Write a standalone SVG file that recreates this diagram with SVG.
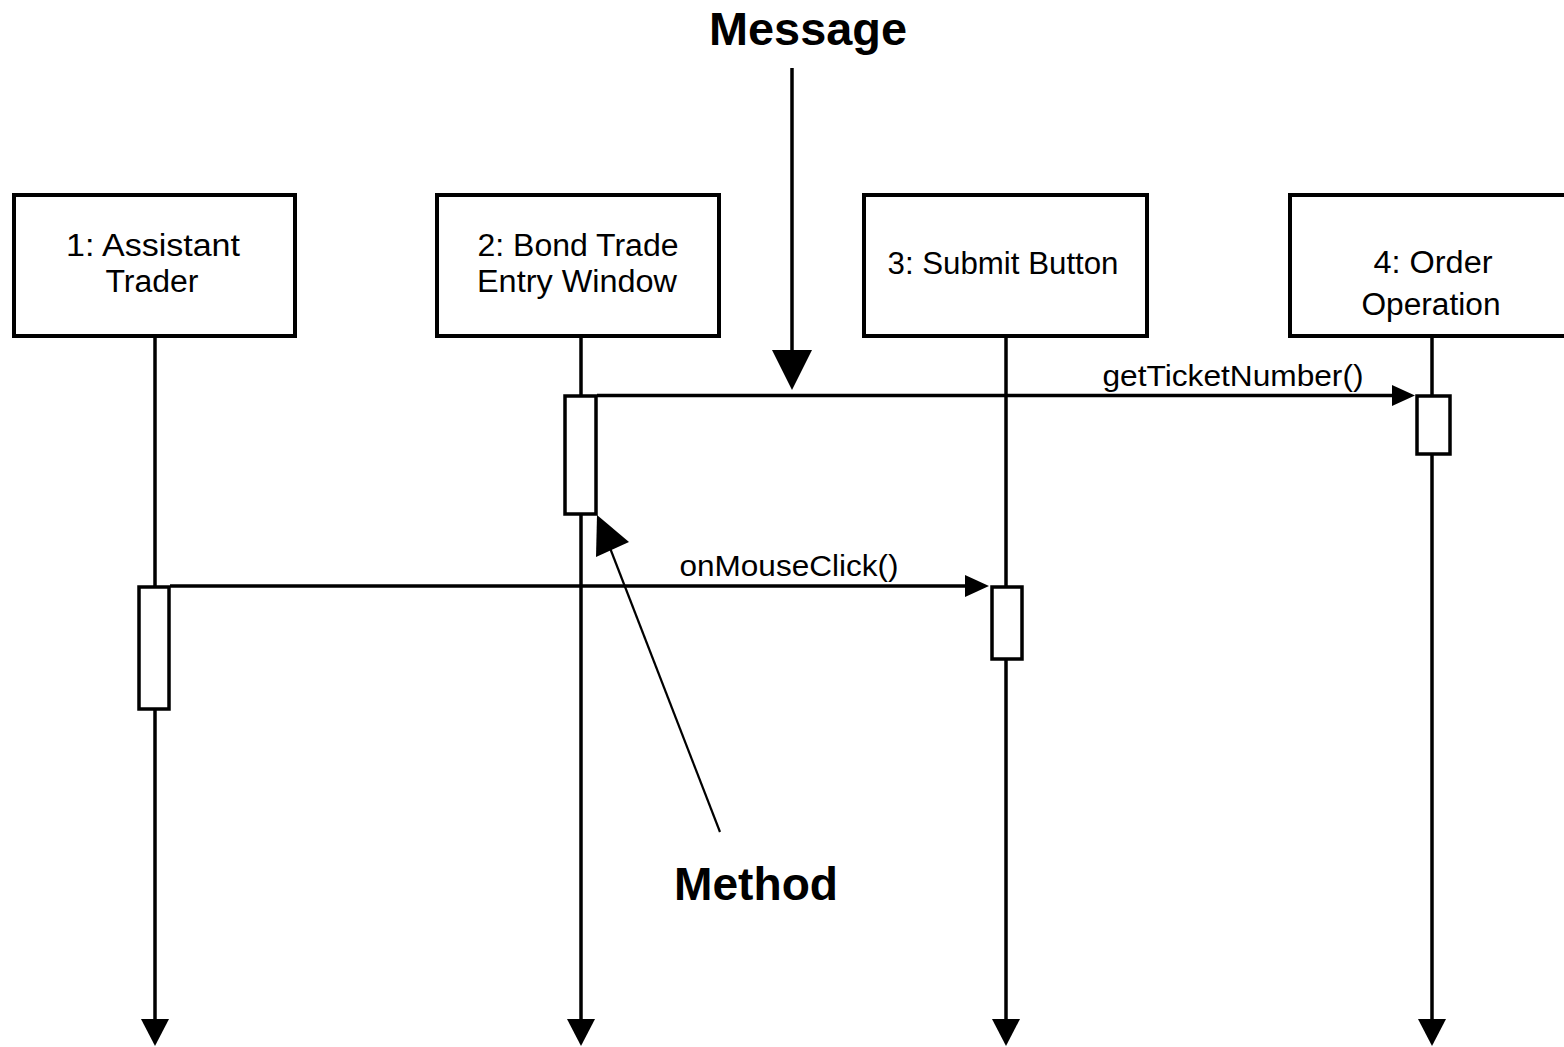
<svg xmlns="http://www.w3.org/2000/svg" width="1564" height="1047" viewBox="0 0 1564 1047">
<style>
.box{fill:#fff;stroke:#000;stroke-width:4}
.act{fill:#fff;stroke:#000;stroke-width:3.5}
.life{stroke:#000;stroke-width:3.5;fill:none}
.msg{stroke:#000;stroke-width:3.5;fill:none}
.ptr{stroke:#000;stroke-width:3.5;fill:none}
.head{fill:#000;stroke:none}
.lbl{font-family:"Liberation Sans",Arial,sans-serif;font-size:31px;fill:#000}
.ml{font-family:"Liberation Sans",Arial,sans-serif;font-size:29px;fill:#000}
.call{font-family:"Liberation Sans",Arial,sans-serif;font-size:46px;font-weight:bold;fill:#000}
</style>
<rect width="1564" height="1047" fill="#fff"/>
<g id="connectors">
<line class="life" x1="155" y1="338" x2="155" y2="1022"/>
<line class="life" x1="581" y1="338" x2="581" y2="1022"/>
<line class="life" x1="1006" y1="338" x2="1006" y2="1022"/>
<line class="life" x1="1432" y1="338" x2="1432" y2="1022"/>
<polygon class="head" points="141,1019 169,1019 155,1046"/>
<polygon class="head" points="567,1019 595,1019 581,1046"/>
<polygon class="head" points="992,1019 1020,1019 1006,1046"/>
<polygon class="head" points="1418,1019 1446,1019 1432,1046"/>
<line class="msg" x1="597" y1="395.5" x2="1396" y2="395.5"/>
<polygon class="head" points="1392,385 1415,395.5 1392,406"/>
<line class="msg" x1="170" y1="586" x2="969" y2="586"/>
<polygon class="head" points="965,575 989,586 965,597"/>
<line class="ptr" x1="792" y1="68" x2="792" y2="352"/>
<polygon class="head" points="772,350 812,350 792,390"/>
<line x1="720" y1="832" x2="610" y2="548" stroke="#000" stroke-width="2.2"/>
<polygon class="head" points="597,515 629,542 596,557"/>
</g>
<g id="n1">
<rect class="box" x="14" y="195" width="281" height="141"/>
<text class="lbl" x="153" y="256" text-anchor="middle" textLength="174" lengthAdjust="spacingAndGlyphs">1: Assistant</text>
<text class="lbl" x="152" y="292" text-anchor="middle" textLength="93" lengthAdjust="spacingAndGlyphs">Trader</text>
</g>
<g id="n2">
<rect class="box" x="437" y="195" width="282" height="141"/>
<text class="lbl" x="578" y="256" text-anchor="middle" textLength="201" lengthAdjust="spacingAndGlyphs">2: Bond Trade</text>
<text class="lbl" x="577" y="292" text-anchor="middle" textLength="200" lengthAdjust="spacingAndGlyphs">Entry Window</text>
</g>
<g id="n3">
<rect class="box" x="864" y="195" width="283" height="141"/>
<text class="lbl" x="1003" y="274" text-anchor="middle" textLength="231" lengthAdjust="spacingAndGlyphs">3: Submit Button</text>
</g>
<g id="n4">
<rect class="box" x="1290" y="195" width="300" height="141"/>
<text class="lbl" x="1433" y="273" text-anchor="middle" textLength="119" lengthAdjust="spacingAndGlyphs">4: Order</text>
<text class="lbl" x="1431" y="315" text-anchor="middle" textLength="139" lengthAdjust="spacingAndGlyphs">Operation</text>
</g>
<g id="activations">
<rect class="act" x="565" y="396" width="31" height="118"/>
<rect class="act" x="1417" y="396" width="33" height="58"/>
<rect class="act" x="139" y="587" width="30" height="122"/>
<rect class="act" x="992" y="587" width="30" height="72"/>
</g>
<g id="labels">
<text class="ml" x="1233" y="386" text-anchor="middle" textLength="261" lengthAdjust="spacingAndGlyphs">getTicketNumber()</text>
<text class="ml" x="789" y="576" text-anchor="middle" textLength="219" lengthAdjust="spacingAndGlyphs">onMouseClick()</text>
</g>
<g id="callout-message">
<text class="call" x="808" y="45" text-anchor="middle" textLength="198" lengthAdjust="spacingAndGlyphs">Message</text>
</g>
<g id="callout-method">
<text class="call" x="756" y="900" text-anchor="middle" textLength="164" lengthAdjust="spacingAndGlyphs">Method</text>
</g>
</svg>
